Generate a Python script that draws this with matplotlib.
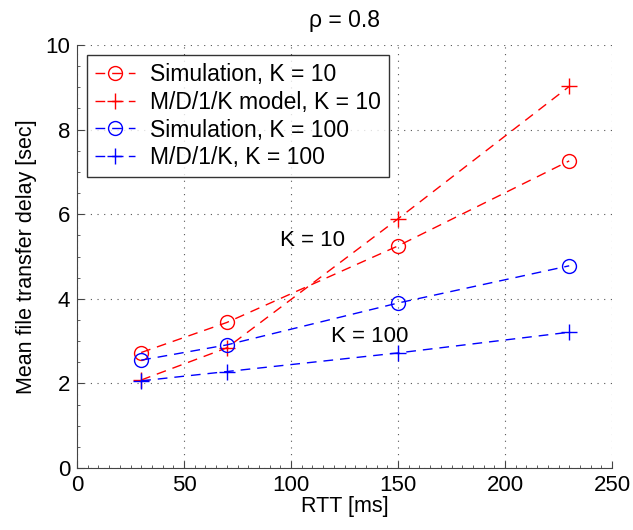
import numpy as np
import matplotlib.pyplot as plt
from matplotlib.ticker import MultipleLocator

plt.rcParams['font.family'] = ['Liberation Sans', 'DejaVu Sans']

rtt = [30, 70, 150, 230]
sim_k10 = [2.73, 3.44, 5.25, 7.26]
mdl_k10 = [2.08, 2.84, 5.89, 9.02]
sim_k100 = [2.55, 2.91, 3.90, 4.78]
mdl_k100 = [2.06, 2.28, 2.72, 3.21]

labels = ['Simulation, K = 10', 'M/D/1/K model, K = 10',
          'Simulation, K = 100', 'M/D/1/K, K = 100']

fig = plt.figure(figsize=(6.33, 5.30), dpi=100)
ax = fig.add_axes([77/633, 1-468/530, 535/633, 423/530])

dash = (0, (7, 5))
ax.plot(rtt, sim_k10, color='red', ls=dash, lw=1, marker='o', ms=10,
        mfc='none', mew=1, label=labels[0])
ax.plot(rtt, mdl_k10, color='red', ls=dash, lw=1, marker='+', ms=12,
        mew=1, label=labels[1])
ax.plot(rtt, sim_k100, color='blue', ls=dash, lw=1, marker='o', ms=10,
        mfc='none', mew=1, label=labels[2])
ax.plot(rtt, mdl_k100, color='blue', ls=dash, lw=1, marker='+', ms=12,
        mew=1, label=labels[3])

ax.set_xlim(0, 250)
ax.set_ylim(0, 10)
ax.xaxis.set_major_locator(MultipleLocator(50))
ax.yaxis.set_major_locator(MultipleLocator(2))
ax.xaxis.set_minor_locator(MultipleLocator(5))
ax.yaxis.set_minor_locator(MultipleLocator(0.5))

for s in ['top', 'right']:
    ax.spines[s].set_visible(False)
for s in ['left', 'bottom']:
    ax.spines[s].set_color('#444444')
    ax.spines[s].set_linewidth(0.8)

ax.tick_params(which='major', direction='in', length=5, color='#444444',
               labelsize=16, pad=5)
ax.tick_params(which='minor', direction='in', length=2.5, color='#444444')
ax.grid(True, which='major', color='#555555', ls=(0, (1, 5)), lw=0.8)

ax.set_xlabel('RTT [ms]', fontsize=15.5, labelpad=0)
ax.set_ylabel('Mean file transfer delay [sec]', fontsize=15.5, labelpad=6)
ax.set_title('ρ = 0.8', fontsize=16.5, pad=13)

ax.text(110, 5.39, 'K = 10', fontsize=16, ha='center', va='center')
ax.text(137, 3.1, 'K = 100', fontsize=16, ha='center', va='center')

leg = ax.legend(loc='upper left', fontsize=16.5, frameon=True, fancybox=False,
                borderaxespad=0.45, handlelength=1.75, handletextpad=0.65,
                labelspacing=0.2, borderpad=0.35)
leg.get_frame().set_edgecolor('black')
leg.get_frame().set_linewidth(1.0)

fig.savefig('out.png', dpi=100)
